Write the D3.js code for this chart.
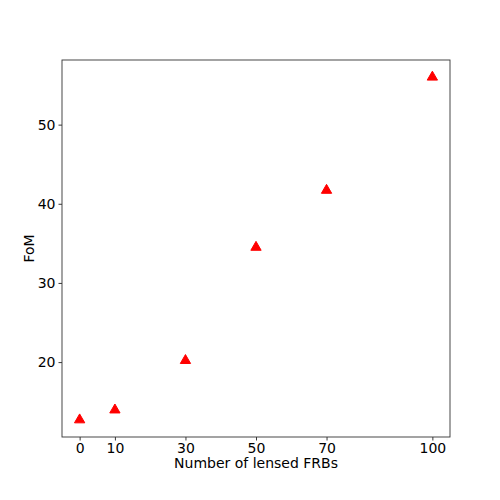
<!DOCTYPE html>
<html>
<head>
<meta charset="utf-8">
<script src="https://cdn.jsdelivr.net/npm/d3@7"></script>
<style>
  body { margin: 0; background: #fff; }
  text { font-family: "DejaVu Sans", sans-serif; }
</style>
</head>
<body>
<div id="vis"></div>
<script>
// lensed FRB count vs figure of merit
var lensedFRBs = [0, 10, 30, 50, 70, 100];
var fom = [12.7, 13.95, 20.2, 34.5, 41.7, 56.0];
var xTicks = [0, 10, 30, 50, 70, 100];
var yTicks = [20, 30, 40, 50];

var width = 500, height = 500;
var margin = {top: 60, right: 50, bottom: 63, left: 62};

var svg = d3.select("#vis").append("svg")
    .attr("width", width).attr("height", height);

// matplotlib style 5% padding on both axes
var xPad = (d3.max(lensedFRBs) - d3.min(lensedFRBs)) * 0.05;
var yPad = (d3.max(fom) - d3.min(fom)) * 0.05;

var x = d3.scaleLinear()
    .domain([d3.min(lensedFRBs) - xPad, d3.max(lensedFRBs) + xPad])
    .range([margin.left, width - margin.right]);

var y = d3.scaleLinear()
    .domain([d3.min(fom) - yPad, d3.max(fom) + yPad])
    .range([height - margin.bottom, margin.top]);

var xAxis = d3.axisBottom(x).tickValues(xTicks).tickSize(3.5).tickPadding(2.2).tickSizeOuter(0);
var yAxis = d3.axisLeft(y).tickValues(yTicks).tickSize(3.5).tickPadding(3).tickSizeOuter(0);

var gx = svg.append("g")
    .attr("transform", "translate(0," + (height - margin.bottom) + ")")
    .call(xAxis);
var gy = svg.append("g")
    .attr("transform", "translate(" + margin.left + ",0)")
    .call(yAxis);

[gx, gy].forEach(function (g) {
    g.attr("font-size", 14).attr("font-family", null);
    g.select(".domain").remove();
    g.selectAll(".tick line").attr("stroke", "#222").attr("stroke-width", 0.9);
    g.selectAll(".tick text").attr("fill", "#000");
});

// frame
var x0 = margin.left, x1 = width - margin.right;
var y0 = margin.top, y1 = height - margin.bottom;
svg.append("rect")
    .attr("x", x0).attr("y", y0)
    .attr("width", x1 - x0).attr("height", y1 - y0)
    .attr("fill", "none")
    .attr("stroke", "#333")
    .attr("stroke-width", 0.9);

// markers
var tri = d3.symbol().type(d3.symbolTriangle).size(46);
svg.append("g").selectAll("path")
    .data(lensedFRBs)
    .enter().append("path")
    .attr("d", tri)
    .attr("transform", function (d, i) {
        return "translate(" + x(d) + "," + y(fom[i]) + ")";
    })
    .attr("fill", "red")
    .attr("stroke", "red")
    .attr("stroke-width", 1);

// labels
svg.append("text")
    .attr("x", (x0 + x1) / 2)
    .attr("y", 468)
    .attr("text-anchor", "middle")
    .style("font-size", "14px")
    .text("Number of lensed FRBs");

svg.append("text")
    .attr("transform", "translate(34," + ((y0 + y1) / 2) + ") rotate(-90)")
    .attr("text-anchor", "middle")
    .style("font-size", "14px")
    .text("FoM");
</script>
</body>
</html>
